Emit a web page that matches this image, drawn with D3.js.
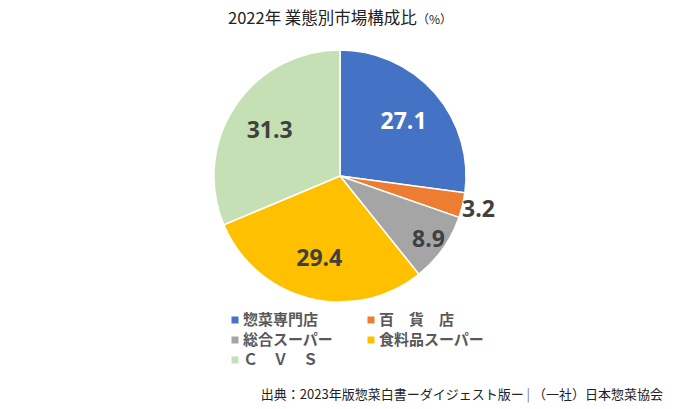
<!DOCTYPE html>
<html><head><meta charset="utf-8">
<script src="https://cdn.jsdelivr.net/npm/d3@7"></script>
<style>body{margin:0;background:#fff;}svg{display:block;font-family:"Noto Sans CJK JP","Noto Sans",sans-serif;}</style>
</head><body>
<svg id="c" width="700" height="409"></svg>
<script>
const categories = ["惣菜専門店", "百　貨　店", "総合スーパー", "食料品スーパー", "Ｃ　Ｖ　Ｓ"];
const values = [27.1, 3.2, 8.9, 29.4, 31.3];
const colors = ["#4472C4", "#ED7D31", "#A5A5A5", "#FFC000", "#C5E0B4"];
const labelColors = ["#ffffff", "#404040", "#404040", "#404040", "#404040"];

const svg = d3.select("#c");
const cx = 340, cy = 176, r = 126;

svg.append("text").attr("x", 340).attr("y", 24).attr("text-anchor", "middle")
  .attr("font-size", 16.5).attr("fill", "#222")
  .html('2022年 業態別市場構成比<tspan font-size="12">（%）</tspan>');

const data = categories.map((c, i) => ({cat: c, value: values[i], i}));
const pie = d3.pie().value(d => d.value).sort(null);
const arcs = pie(data);
const arc = d3.arc().innerRadius(0).outerRadius(r);
const g = svg.append("g").attr("transform", `translate(${cx},${cy})`);
g.selectAll("path").data(arcs).join("path")
  .attr("d", arc).attr("fill", d => colors[d.data.i])
  .attr("stroke", "#fff").attr("stroke-width", 1.5);

function labelRadius(d) {
  const frac = d.data.value / d3.sum(values);
  if (frac < 0.05) return r * 1.13;
  if (frac < 0.1) return r * 0.86;
  return r * 0.67;
}
g.selectAll("text.lbl").data(arcs).join("text").attr("class", "lbl")
  .attr("transform", d => {
    const a = (d.startAngle + d.endAngle) / 2, lr = labelRadius(d);
    return `translate(${lr * Math.sin(a)},${-lr * Math.cos(a)})`;
  })
  .attr("text-anchor", "middle").attr("dy", "0.36em")
  .attr("font-family", "'Open Sans','Noto Sans',sans-serif")
  .attr("font-weight", "bold").attr("font-size", 23)
  .attr("fill", d => labelColors[d.data.i])
  .text(d => d3.format(".1f")(d.data.value));

const lg = svg.append("g");
data.forEach((d, i) => {
  const col = i % 2, row = Math.floor(i / 2);
  const x = 235 + col * 136, y = 320 + row * 20;
  lg.append("rect").attr("x", x - 3.5).attr("y", y - 3.5).attr("width", 7).attr("height", 7)
    .attr("fill", colors[i]);
  lg.append("text").attr("x", x + 8).attr("y", y).attr("dy", "0.36em")
    .attr("font-size", 15).attr("font-weight", "bold").attr("fill", "#595959")
    .text(d.cat);
});

svg.append("text").attr("x", 663).attr("y", 394).attr("dy", "0.35em").attr("text-anchor", "end")
  .attr("font-size", 13).attr("fill", "#222")
  .html('出典：2023年版惣菜白書ーダイジェスト版ー<tspan fill="#777"> | </tspan>（一社）日本惣菜協会');
</script>
</body></html>
